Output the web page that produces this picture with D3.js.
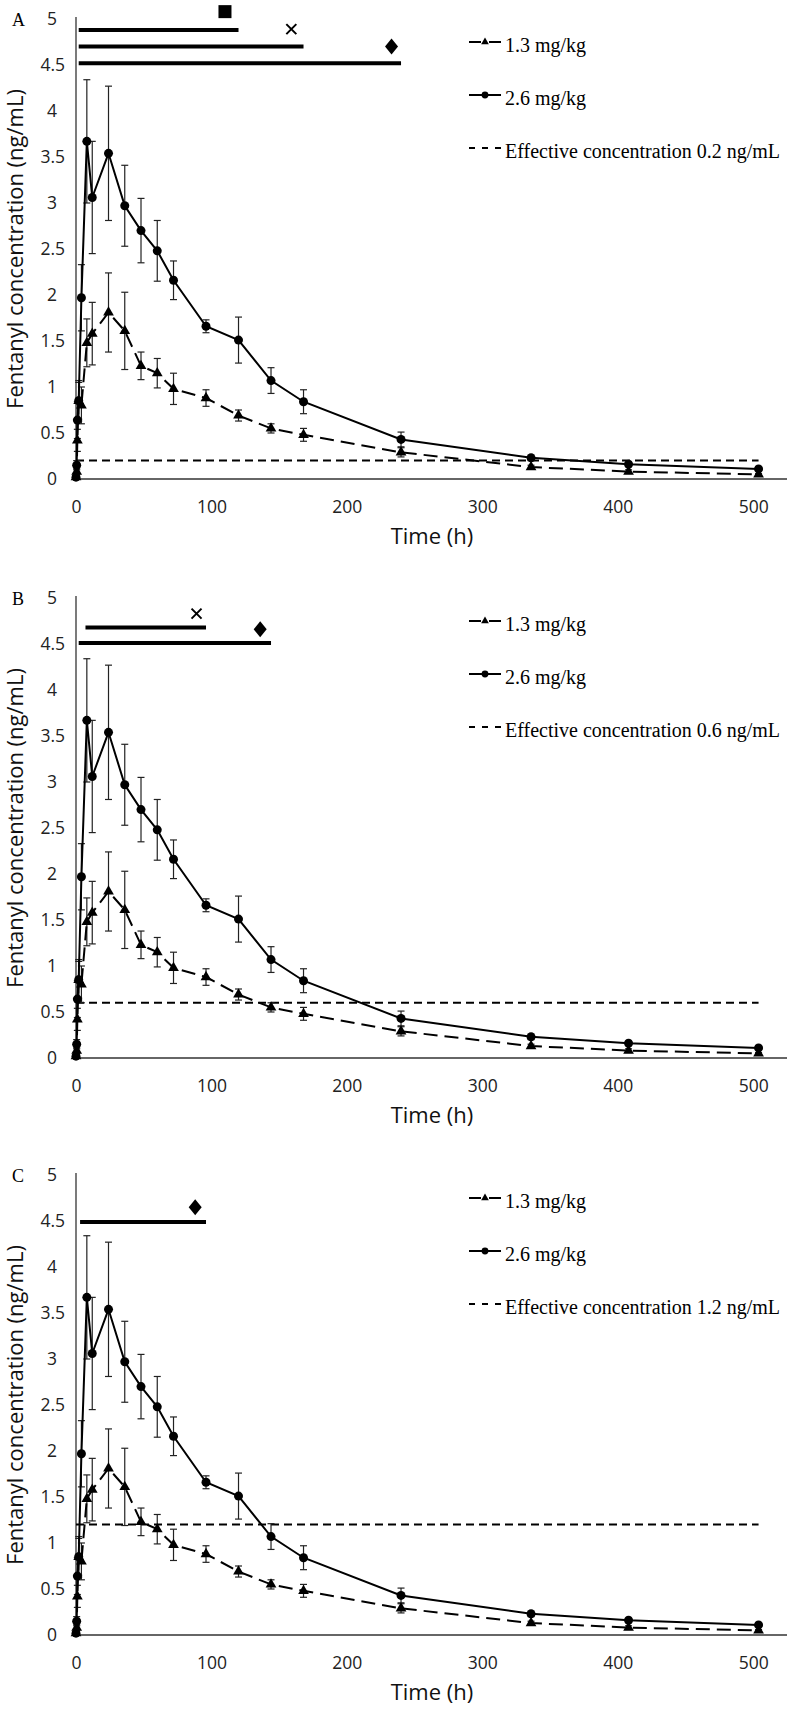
<!DOCTYPE html>
<html><head><meta charset="utf-8">
<script src="https://cdn.jsdelivr.net/npm/d3@7"></script>
<style>body{margin:0;background:#fff}svg{display:block}</style>
</head><body>
<svg id="c" width="794" height="1710"></svg>
<script>
// ---- data ----
const times = [0, 0.5, 1, 2, 4, 8, 12, 24, 36, 48, 60, 72, 96, 120, 144, 168, 240, 336, 408, 504];
const low13 = [0.02, 0.08, 0.42, 0.85, 0.80, 1.48, 1.58, 1.81, 1.61, 1.23, 1.15, 0.98, 0.88, 0.69, 0.55, 0.48, 0.29, 0.13, 0.08, 0.05];
const low13Err = [0.01, 0.03, 0.12, 0.2, 0.2, 0.26, 0.34, 0.43, 0.42, 0.15, 0.16, 0.17, 0.09, 0.06, 0.05, 0.07, 0.05, 0.02, 0.02, 0.01];
const high26 = [0.02, 0.15, 0.64, 0.85, 1.97, 3.67, 3.06, 3.54, 2.97, 2.70, 2.48, 2.16, 1.66, 1.51, 1.07, 0.84, 0.43, 0.23, 0.16, 0.11];
const high26Err = [0.01, 0.05, 0.2, 0.22, 0.36, 0.67, 0.61, 0.73, 0.44, 0.35, 0.33, 0.21, 0.07, 0.25, 0.14, 0.13, 0.08, 0.03, 0.02, 0.02];
const yTicks = [0, 0.5, 1, 1.5, 2, 2.5, 3, 3.5, 4, 4.5, 5];
const xTicks = [0, 100, 200, 300, 400, 500];
const panelLetters = ["A", "B", "C"];
const effective = [0.2, 0.6, 1.2];
const legendLabels = ["1.3 mg/kg", "2.6 mg/kg"];
// significance bars: [start h, end h, level, marker, marker h, marker level]
const sigA = [[2, 120, 4.88, "square", 110, 5.08], [2, 168, 4.70, "cross", 159, 4.89], [2, 240, 4.52, "diamond", 233, 4.70]];
const sigB = [[7, 96, 4.68, "cross", 89, 4.83], [2, 144, 4.51, "diamond", 136, 4.66]];
const sigC = [[3, 96, 4.49, "diamond", 88, 4.65]];
const sigAll = [sigA, sigB, sigC];

// ---- drawing ----
const svg = d3.select("#c");
svg.append("rect").attr("width", 794).attr("height", 1710).attr("fill", "#fff");
const panelTops = [19, 598, 1175];
const x = d3.scaleLinear().domain([0, 525]).range([76, 787]);
const ser13 = times.map((t, i) => ({t, v: low13[i], e: low13Err[i]}));
const ser26 = times.map((t, i) => ({t, v: high26[i], e: high26Err[i]}));

panelLetters.forEach((letter, i) => {
  const top = panelTops[i];
  const y = d3.scaleLinear().domain([0, 5]).range([top + 460, top]);
  const g = svg.append("g");

  // axes
  const ya = g.append("g").attr("transform", `translate(${x(0)},0)`)
    .call(d3.axisLeft(y).tickValues(yTicks).tickFormat(d => String(d)).tickSize(0).tickPadding(11));
  ya.select(".domain").remove();
  ya.selectAll("text").attr("font-family", "'Open Sans'").attr("font-size", 17.5).attr("fill", "#222")
    .attr("dx", d => Number.isInteger(d) ? -8 : 0);
  g.append("line").attr("x1", x(0)).attr("x2", x(0)).attr("y1", y(5) - 2).attr("y2", y(0))
    .attr("stroke", "#333").attr("stroke-width", 1.3);

  const xa = g.append("g").attr("transform", `translate(0,${y(0)})`)
    .call(d3.axisBottom(x).tickValues(xTicks).tickFormat(d => String(d)).tickSize(0).tickPadding(22));
  xa.select(".domain").remove();
  xa.selectAll("text").attr("font-family", "'Open Sans'").attr("font-size", 17.5).attr("fill", "#222");
  g.append("line").attr("x1", x(0)).attr("x2", x(525)).attr("y1", y(0)).attr("y2", y(0))
    .attr("stroke", "#333").attr("stroke-width", 1.3);

  // titles
  g.append("text").attr("x", 432).attr("y", y(0) + 65).attr("text-anchor", "middle")
    .attr("font-family", "'Open Sans'").attr("font-size", 22).attr("fill", "#111").text("Time (h)");
  g.append("text").attr("transform", `translate(23,${(y(0) + y(5)) / 2}) rotate(-90)`).attr("text-anchor", "middle")
    .attr("font-family", "'Open Sans'").attr("font-size", 22).attr("fill", "#111").text("Fentanyl concentration (ng/mL)");
  g.append("text").attr("x", 12).attr("y", top + 7).attr("font-family", "'Liberation Serif', 'Times New Roman', serif")
    .attr("font-size", 18).attr("fill", "#000").text(letter);

  // effective concentration line
  g.append("line").attr("x1", x(0)).attr("x2", x(504)).attr("y1", y(effective[i])).attr("y2", y(effective[i]))
    .attr("stroke", "#000").attr("stroke-width", 2).attr("stroke-dasharray", "8,5");

  // error bars
  [ser13, ser26].forEach(ser => {
    const eb = g.append("g").attr("stroke", "#222").attr("stroke-width", 1.2);
    ser.forEach(d => {
      const cx = x(d.t);
      eb.append("line").attr("x1", cx).attr("x2", cx).attr("y1", y(d.v - d.e)).attr("y2", y(d.v + d.e));
      eb.append("line").attr("x1", cx - 3.5).attr("x2", cx + 3.5).attr("y1", y(d.v - d.e)).attr("y2", y(d.v - d.e));
      eb.append("line").attr("x1", cx - 3.5).attr("x2", cx + 3.5).attr("y1", y(d.v + d.e)).attr("y2", y(d.v + d.e));
    });
  });

  const line = d3.line().x(d => x(d.t)).y(d => y(d.v));
  g.append("path").datum(ser13).attr("d", line).attr("fill", "none").attr("stroke", "#000")
    .attr("stroke-width", 2).attr("stroke-dasharray", "14,7");
  g.append("path").datum(ser26).attr("d", line).attr("fill", "none").attr("stroke", "#000").attr("stroke-width", 2);

  g.selectAll(".tri").data(ser13).join("path").attr("class", "tri")
    .attr("d", d3.symbol(d3.symbolTriangle, 50)).attr("transform", d => `translate(${x(d.t)},${y(d.v)})`).attr("fill", "#000");
  g.selectAll(".cir").data(ser26).join("circle").attr("class", "cir")
    .attr("cx", d => x(d.t)).attr("cy", d => y(d.v)).attr("r", 4.5).attr("fill", "#000");

  // significance bars
  sigAll[i].forEach(([s, e, lv, mk, mx, my]) => {
    g.append("line").attr("x1", x(s)).attr("x2", x(e)).attr("y1", y(lv)).attr("y2", y(lv))
      .attr("stroke", "#000").attr("stroke-width", 4);
    const px = x(mx), py = y(my);
    if (mk === "square") {
      g.append("rect").attr("x", px - 6.5).attr("y", py - 6.5).attr("width", 13).attr("height", 13).attr("fill", "#000");
    } else if (mk === "cross") {
      g.append("path").attr("d", `M${px - 5},${py - 5}L${px + 5},${py + 5}M${px - 5},${py + 5}L${px + 5},${py - 5}`)
        .attr("stroke", "#000").attr("stroke-width", 2);
    } else {
      g.append("path").attr("d", `M${px},${py - 8}L${px + 6.5},${py}L${px},${py + 8}L${px - 6.5},${py}Z`).attr("fill", "#000");
    }
  });

  // legend
  const lg = g.append("g").attr("font-family", "'Liberation Serif', 'Times New Roman', serif").attr("font-size", 20).attr("fill", "#000");
  const ly = [top + 23, top + 76, top + 129];
  lg.append("path").attr("d", `M469,${ly[0]}H481M489,${ly[0]}H501`).attr("stroke", "#000").attr("stroke-width", 2);
  lg.append("path").attr("d", d3.symbol(d3.symbolTriangle, 26)).attr("transform", `translate(485,${ly[0]})`);
  lg.append("text").attr("x", 505).attr("y", ly[0] + 10).text(legendLabels[0]);
  lg.append("path").attr("d", `M469,${ly[1]}H501`).attr("stroke", "#000").attr("stroke-width", 2);
  lg.append("circle").attr("cx", 485).attr("cy", ly[1]).attr("r", 3.4);
  lg.append("text").attr("x", 505).attr("y", ly[1] + 10).text(legendLabels[1]);
  lg.append("path").attr("d", `M469,${ly[2]}H501`).attr("stroke", "#000").attr("stroke-width", 2).attr("stroke-dasharray", "6,7");
  lg.append("text").attr("x", 505).attr("y", ly[2] + 10).text(`Effective concentration ${effective[i]} ng/mL`);
});
</script>
</body></html>
